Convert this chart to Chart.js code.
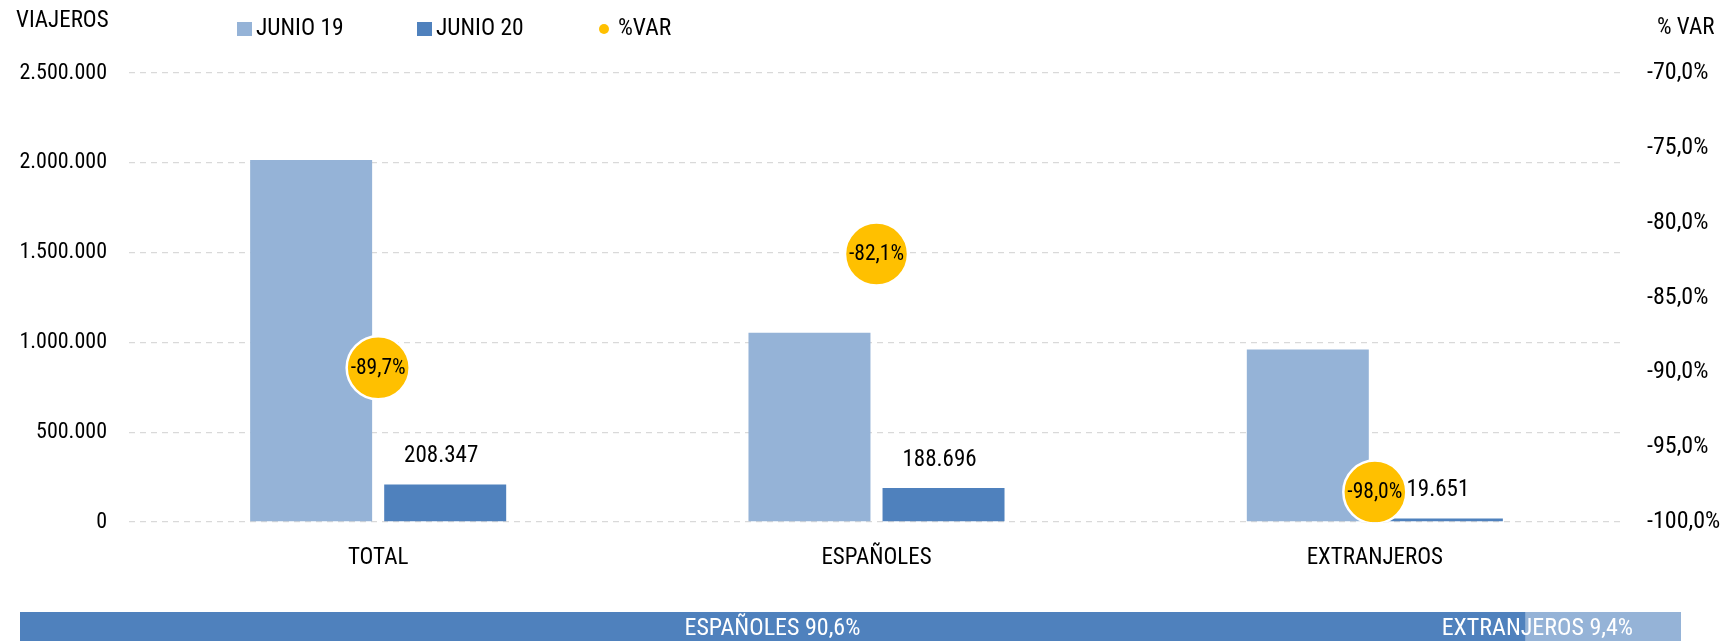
<!DOCTYPE html>
<html>
<head>
<meta charset="utf-8">
<script src="https://cdn.jsdelivr.net/npm/chart.js@4.4.1/dist/chart.umd.min.js"></script>
<style>
  html, body { margin: 0; padding: 0; background: #fff; }
  #wrap { position: relative; width: 1731px; height: 641px; overflow: hidden; }
  #main { position: absolute; left: 0; top: 0; width: 1731px; height: 641px; }
  #share { position: absolute; left: 20px; top: 612px; width: 1661px; height: 29px; }
</style>
</head>
<body>
<div id="wrap">
  <div id="main"><canvas id="c1"></canvas></div>
  <div id="share"><canvas id="c2"></canvas></div>
</div>
<script>
const categories = ['TOTAL', 'ESPAÑOLES', 'EXTRANJEROS'];
const junio19 = [2015000, 1054000, 961000];
const junio20 = [208347, 188696, 19651];
const varPct = [-89.7, -82.1, -98.0];
const seriesNames = ['JUNIO 19', 'JUNIO 20', '%VAR'];
const leftTicks = [0, 500000, 1000000, 1500000, 2000000, 2500000];
const rightTicks = [-100, -95, -90, -85, -80, -75, -70];
const shareLabels = ['ESPAÑOLES', 'EXTRANJEROS'];
const shareValues = [90.6, 9.4];

const FAMILY = "Roboto, 'Open Sans', sans-serif";
const STRETCH = 'condensed';
const f = px => STRETCH + ' ' + px + 'px ' + FAMILY;
const C19 = '#95B3D7', C20 = '#4F81BD', CVAR = '#FFC000';

function fmtThousands(v) {
  return String(Math.round(v)).replace(/\B(?=(\d{3})+(?!\d))/g, '.');
}
function fmtPct(v) {
  return v.toFixed(1).replace('.', ',') + '%';
}

Chart.defaults.font.family = FAMILY;
Chart.defaults.font.weight = STRETCH;
Chart.defaults.color = '#000';

const labelPlugin = {
  id: 'labels',
  afterDatasetsDraw(chart) {
    const ctx = chart.ctx;
    ctx.save();
    ctx.fillStyle = '#000';
    ctx.textAlign = 'center';
    ctx.textBaseline = 'middle';
    const m1 = chart.getDatasetMeta(1);
    ctx.font = f(23);
    m1.data.forEach((el, i) => {
      ctx.fillText(fmtThousands(chart.data.datasets[1].data[i]), el.x - 4, el.y - 28);
    });
    const m2 = chart.getDatasetMeta(2);
    ctx.font = f(21.5);
    m2.data.forEach((el, i) => {
      ctx.fillText(fmtPct(chart.data.datasets[2].data[i]), el.x, el.y + 1);
    });
    ctx.restore();
  },
  afterDraw(chart) {
    const ctx = chart.ctx;
    ctx.save();
    ctx.fillStyle = '#000';
    ctx.textBaseline = 'middle';
    ctx.textAlign = 'left';
    ctx.font = f(23);
    ctx.fillText('VIAJEROS', 16, 21);
    ctx.fillText('% VAR', 1657, 28);
    const ds = chart.data.datasets;
    const pos = [237, 417, 599];
    ctx.font = f(23.5);
    ds.forEach((d, i) => {
      const x = pos[i];
      if (d.type === 'line') {
        ctx.fillStyle = d.backgroundColor;
        ctx.beginPath();
        ctx.arc(x + 5, 29, 5, 0, Math.PI * 2);
        ctx.fill();
        ctx.fillStyle = '#000';
        ctx.fillText(d.label, x + 19, 29);
      } else {
        ctx.fillStyle = d.backgroundColor;
        ctx.fillRect(x, 22, 15, 14);
        ctx.fillStyle = '#000';
        ctx.fillText(d.label, x + 19, 29);
      }
    });
    ctx.restore();
  }
};

new Chart(document.getElementById('c1'), {
  type: 'bar',
  data: {
    labels: categories,
    datasets: [
      { type: 'bar', label: seriesNames[0], data: junio19, backgroundColor: C19, yAxisID: 'y', order: 2,
        barPercentage: 0.91, categoryPercentage: 0.538 },
      { type: 'bar', label: seriesNames[1], data: junio20, backgroundColor: C20, yAxisID: 'y', order: 2,
        barPercentage: 0.91, categoryPercentage: 0.538 },
      { type: 'line', label: seriesNames[2], data: varPct, yAxisID: 'y1', order: 0,
        showLine: false, backgroundColor: CVAR, borderColor: '#fff', pointBackgroundColor: CVAR,
        pointBorderColor: '#fff', pointRadius: 31.5, pointBorderWidth: 2.5, pointHoverRadius: 31.5 }
    ]
  },
  options: {
    responsive: true,
    maintainAspectRatio: false,
    animation: false,
    events: [],
    layout: { padding: { top: 73, left: 0, right: 0, bottom: 0 } },
    plugins: { legend: { display: false }, tooltip: { enabled: false } },
    scales: {
      x: {
        grid: { display: false },
        border: { display: false },
        ticks: { font: { size: 23 }, padding: 14, color: '#000' },
        afterFit(s) { s.height = 119; }
      },
      y: {
        position: 'left',
        min: 0, max: 2500000,
        afterBuildTicks(s) { s.ticks = leftTicks.map(v => ({ value: v })); },
        grid: { color: '#d9d9d9', lineWidth: 1.3, drawTicks: false },
        border: { display: false, dash: [6, 5] },
        ticks: { font: { size: 22 }, padding: 22, color: '#000', callback: v => fmtThousands(v) },
        afterFit(s) { s.width = 129; }
      },
      y1: {
        position: 'right',
        min: -100, max: -70,
        afterBuildTicks(s) { s.ticks = rightTicks.map(v => ({ value: v })); },
        grid: { display: false, drawTicks: false },
        border: { display: false },
        ticks: { font: { size: 24 }, padding: 23, color: '#000', callback: v => fmtPct(v) },
        afterFit(s) { s.width = 107; }
      }
    }
  },
  plugins: [labelPlugin]
});

const sharePlugin = {
  id: 'shareLabels',
  afterDatasetsDraw(chart) {
    const ctx = chart.ctx;
    ctx.save();
    ctx.fillStyle = '#fff';
    ctx.textBaseline = 'middle';
    ctx.font = f(24);
    chart.data.datasets.forEach((d, i) => {
      const el = chart.getDatasetMeta(i).data[0];
      const txt = d.label + ' ' + fmtPct(d.data[0]);
      if (i === 0) {
        ctx.textAlign = 'center';
        ctx.fillText(txt, (el.base + el.x) / 2, el.y + 2);
      } else {
        ctx.textAlign = 'right';
        ctx.fillText(txt, el.x - 48, el.y + 2);
      }
    });
    ctx.restore();
  }
};

new Chart(document.getElementById('c2'), {
  type: 'bar',
  data: {
    labels: [''],
    datasets: [
      { label: shareLabels[0], data: [shareValues[0]], backgroundColor: C20, barPercentage: 1, categoryPercentage: 1 },
      { label: shareLabels[1], data: [shareValues[1]], backgroundColor: C19, barPercentage: 1, categoryPercentage: 1 }
    ]
  },
  options: {
    indexAxis: 'y',
    responsive: true,
    maintainAspectRatio: false,
    animation: false,
    events: [],
    layout: { padding: 0 },
    plugins: { legend: { display: false }, tooltip: { enabled: false } },
    scales: {
      x: { stacked: true, min: 0, max: 100, display: false },
      y: { stacked: true, display: false }
    }
  },
  plugins: [sharePlugin]
});
</script>
</body>
</html>
